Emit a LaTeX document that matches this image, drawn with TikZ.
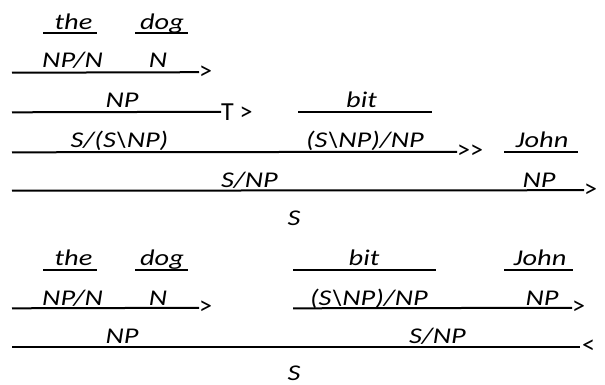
\documentclass[tikz,border=0pt]{standalone}
\usepackage{fontspec}
\setmainfont{Carlito}
\newcommand\widetxt[1]{\scalebox{1.26}[1]{#1}}
\begin{document}
\begin{tikzpicture}[x=1pt,y=-1pt,
  lbl/.style={font=\fontsize{22.5}{26}\selectfont\itshape, anchor=base, inner sep=0pt},
  sym/.style={font=\fontsize{26}{30}\selectfont, anchor=west, inner sep=0pt, yshift=0.5pt},
  rule/.style={line width=2pt}]
\useasboundingbox (0,0) rectangle (605,385);
% ---------- derivation 1 ----------
\node[lbl] (the1) at (73.5,30) {\widetxt{the}};
\node[lbl] (dog1) at (162,30) {\widetxt{dog}};
\coordinate (ut1a) at (43,33); \coordinate (ut1b) at (97,33);
\coordinate (ud1a) at (135,33); \coordinate (ud1b) at (188,33);
\draw[rule] (ut1a) -- (ut1b);
\draw[rule] (ud1a) -- (ud1b);
\node[lbl] (npn1) at (72.5,68) {\widetxt{NP/N}};
\node[lbl] (n1) at (158,68) {\widetxt{N}};
\coordinate (r1a) at (12,72.7);
\node[sym] (g1) at (199,72.7) {>};
\draw[rule] (r1a) -- (g1.west);
\node[lbl] (np1) at (122,108) {\widetxt{NP}};
\coordinate (r2a) at (12,112.3);
\node[sym] (tr1) at (221,112.3) {T >};
\draw[rule] (r2a) -- (tr1.west);
\node[lbl] (bit1) at (361.5,108) {\widetxt{bit}};
\coordinate (ub1a) at (298,112.3); \coordinate (ub1b) at (432,112.3);
\draw[rule] (ub1a) -- (ub1b);
\node[lbl] (ssnp1) at (119.5,147) {\widetxt{S/(S\textbackslash NP)}};
\node[lbl] (tv1) at (365,147) {\widetxt{(S\textbackslash NP)/NP}};
\coordinate (r3a) at (12,152.3);
\node[sym] (bc1) at (457,152.3) {>{}>};
\draw[rule] (r3a) -- (bc1.west);
\node[lbl] (john1) at (542,147) {\widetxt{John}};
\coordinate (uj1a) at (504,152.3); \coordinate (uj1b) at (578,152.3);
\draw[rule] (uj1a) -- (uj1b);
\node[lbl] (snp1) at (249.5,187) {\widetxt{S/NP}};
\node[lbl] (npj1) at (539,187) {\widetxt{NP}};
\coordinate (r4a) at (12,190.7);
\node[sym] (g4) at (584,190.7) {>};
\draw[rule] (r4a) -- (g4.west);
\node[lbl] (s1) at (294,225) {\widetxt{S}};
% ---------- derivation 2 ----------
\node[lbl] (the2) at (73.5,265) {\widetxt{the}};
\node[lbl] (dog2) at (162,265) {\widetxt{dog}};
\node[lbl] (bit2) at (364,265) {\widetxt{bit}};
\node[lbl] (john2) at (540,265) {\widetxt{John}};
\coordinate (ut2a) at (43,270); \coordinate (ut2b) at (97,270);
\coordinate (ud2a) at (135,270); \coordinate (ud2b) at (188,270);
\coordinate (ub2a) at (293,270); \coordinate (ub2b) at (436,270);
\coordinate (uj2a) at (504,270); \coordinate (uj2b) at (573,270);
\draw[rule] (ut2a) -- (ut2b);
\draw[rule] (ud2a) -- (ud2b);
\draw[rule] (ub2a) -- (ub2b);
\draw[rule] (uj2a) -- (uj2b);
\node[lbl] (npn2) at (72.5,305) {\widetxt{NP/N}};
\node[lbl] (n2) at (158,305) {\widetxt{N}};
\node[lbl] (tv2) at (369,305) {\widetxt{(S\textbackslash NP)/NP}};
\node[lbl] (npj2) at (542,305) {\widetxt{NP}};
\coordinate (q1a) at (12,308.3);
\node[sym] (h1) at (199,308.3) {>};
\draw[rule] (q1a) -- (h1.west);
\coordinate (q2a) at (293,308.3);
\node[sym] (h2) at (572,308.3) {>};
\draw[rule] (q2a) -- (h2.west);
\node[lbl] (np2) at (122,343) {\widetxt{NP}};
\node[lbl] (snp2) at (437.5,343) {\widetxt{S/NP}};
\coordinate (q3a) at (12,347.3);
\coordinate (q3b) at (580,347.3);
\node[sym] (h3) at (582,347.3) {<};
\draw[rule] (q3a) -- (q3b);
\node[lbl] (s2) at (294,380) {\widetxt{S}};
\end{tikzpicture}
\end{document}
